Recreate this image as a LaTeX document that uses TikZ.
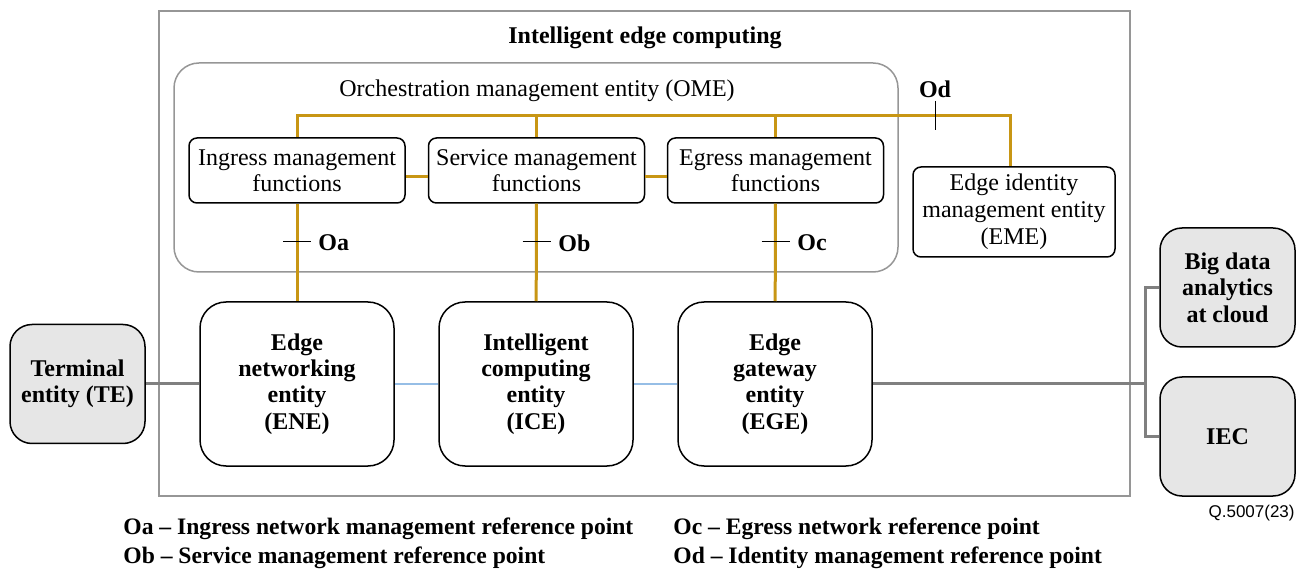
\documentclass[tikz,border=0pt]{standalone}
\usepackage{fontspec}
\setmainfont{Liberation Serif}
\newfontfamily\figsans{Liberation Sans}
\usetikzlibrary{positioning}
\tikzset{>=latex}
\definecolor{orchgold}{RGB}{200,150,20}
\definecolor{linkgray}{RGB}{128,128,128}
\definecolor{framegray}{RGB}{150,150,150}
\definecolor{boxfill}{RGB}{230,230,230}
\definecolor{lightblue}{RGB}{150,190,230}
\tikzset{
    fnbox/.style={draw, line width=0.75pt, rounded corners=4pt, align=center, font=\fontsize{12}{13}\selectfont, inner sep=0pt},
    entbox/.style={draw, line width=0.75pt, rounded corners=13pt, align=center, font=\bfseries\fontsize{12}{13.2}\selectfont, minimum width=97pt, minimum height=82pt, inner sep=0pt},
    extbox/.style={entbox, fill=boxfill, rounded corners=11pt, minimum width=67.5pt, minimum height=59.5pt},
    orchline/.style={orchgold, line width=1.5pt},
    linkline/.style={linkgray, line width=1.5pt},
    refmark/.style={line width=0.5pt},
    reflabel/.style={font=\bfseries\fontsize{12}{13}\selectfont, anchor=west, inner sep=0pt},
    legend/.style={font=\bfseries\fontsize{11.8}{13}\selectfont, anchor=west, inner sep=0pt}
}
\begin{document}
\begin{tikzpicture}[x=0.5pt, y=-0.5pt]
                \useasboundingbox (0, 0) rectangle (1306, 571);
                % frames
                \draw [framegray, line width=0.75pt] (159, 11) rectangle (1130, 496);
                \node [font=\bfseries\fontsize{12}{13}\selectfont] (iec title) at (645, 38) {Intelligent edge computing};
                \draw [framegray, line width=0.75pt, rounded corners=12.5pt] (174, 63) rectangle (898, 272);
                \node [font=\fontsize{12}{13}\selectfont] (ome title) at (537, 91) {Orchestration management entity (OME)};
                % management functions
                \node [fnbox, minimum width=108pt, minimum height=32.5pt] (ing) at (297, 170.5) {Ingress management\\functions};
                \node [fnbox, minimum width=108pt, minimum height=32.5pt] (srv) at (536.5, 170.5) {Service management\\functions};
                \node [fnbox, minimum width=108pt, minimum height=32.5pt] (egr) at (775.5, 170.5) {Egress management\\functions};
                \node [fnbox, minimum width=101pt, minimum height=45pt, font=\fontsize{12}{13.5}\selectfont] (eme) at (1014, 212) {Edge identity\\management entity\\(EME)};
                % entities
                \node [entbox] (ene) at (297, 384) {Edge\\networking\\entity\\(ENE)};
                \node [entbox] (ice) at (536, 384) {Intelligent\\computing\\entity\\(ICE)};
                \node [entbox] (ege) at (775, 384) {Edge\\gateway\\entity\\(EGE)};
                \node [extbox] (te) at (77.5, 384) {Terminal\\entity (TE)};
                \node [extbox] (bda) at (1227.5, 287.5) {Big data\\analytics\\at cloud};
                \node [extbox] (iec) at (1227.5, 436.5) {IEC};
                % orchestration bus
                \coordinate (bus) at (297, 116);
                \draw [orchline] (ing.north) -- (bus) -| ([xshift=-2pt]eme.north);
                \draw [orchline] (srv.north) -- (srv.north |- bus);
                \draw [orchline] (egr.north) -- (egr.north |- bus);
                \draw [orchline] ([yshift=-3pt]ing.east) -- ([yshift=-3pt]srv.west);
                \draw [orchline] ([yshift=-3pt]srv.east) -- ([yshift=-3pt]egr.west);
                \draw [orchline] (ing) -- (ene);
                \draw [orchline] (srv) -- (ice);
                \draw [orchline] (egr) -- (ege);
                % reference points
                \coordinate (od mark) at (935, 116);
                \draw [refmark] (od mark) ++(0, -15) -- ++(0, 29);
                \node [font=\bfseries\fontsize{12}{13}\selectfont] (od) at (935, 89) {Od};
                \coordinate (oa mark) at (297, 242);
                \draw [refmark] (oa mark) ++(-14, 0) -- ++(28, 0);
                \node [reflabel] (oa) at (318, 243) {Oa};
                \coordinate (ob mark) at (536.5, 242);
                \draw [refmark] (ob mark) ++(-14, 0) -- ++(28, 0);
                \node [reflabel] (ob) at (558, 243) {Ob};
                \coordinate (oc mark) at (775.5, 242);
                \draw [refmark] (oc mark) ++(-14, 0) -- ++(28, 0);
                \node [reflabel] (oc) at (797, 243) {Oc};
                % data links
                \draw [lightblue, line width=0.6pt] (ene) -- (ice);
                \draw [lightblue, line width=0.6pt] (ice) -- (ege);
                \draw [linkline] (te) -- (ene);
                \coordinate (split) at (1145, 384);
                \draw [linkline] (ege) -- (split);
                \draw [linkline] (bda.west) -| (split) |- (iec.west);
                % legend
                \node [anchor=east, inner sep=0pt, font=\figsans\fontsize{8.5}{10}\selectfont] (fig no) at (1295, 513) {Q.5007(23)};
                \node [legend] (leg oa) at (123, 529) {Oa -- Ingress network management reference point};
                \node [legend] (leg ob) at (123, 558) {Ob -- Service management reference point};
                \node [legend] (leg oc) at (673, 529) {Oc -- Egress network reference point};
                \node [legend] (leg od) at (673, 558) {Od -- Identity management reference point};
            \end{tikzpicture}
\end{document}
